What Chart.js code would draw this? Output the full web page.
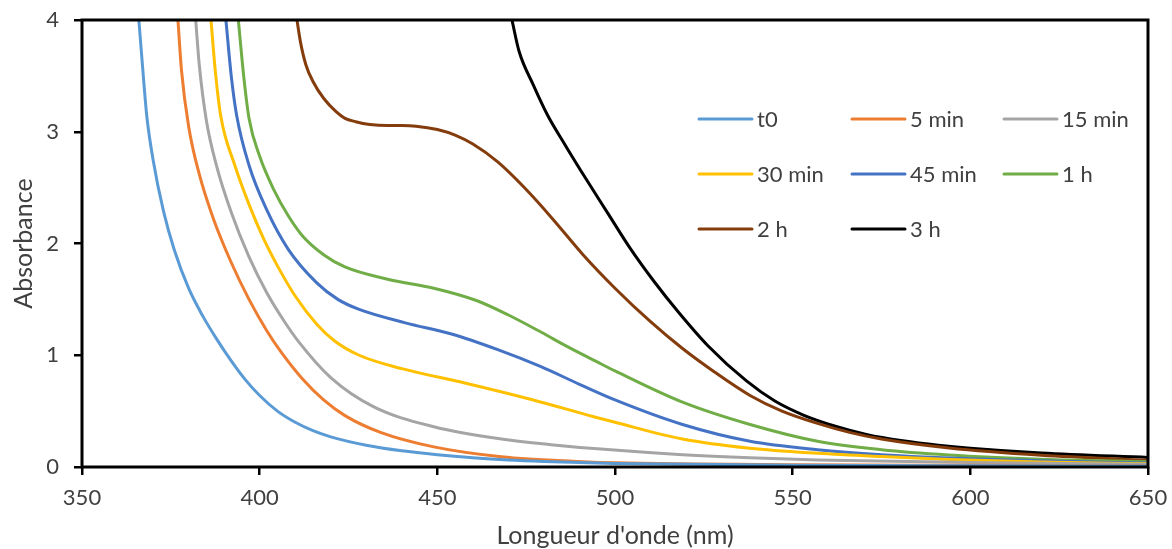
<!DOCTYPE html>
<html>
<head>
<meta charset="utf-8">
<script src="https://cdn.jsdelivr.net/npm/chart.js@4.4.0/dist/chart.umd.min.js"></script>
<style>
  html, body { margin: 0; padding: 0; background: #ffffff; }
  #wrap { width: 1172px; height: 549px; position: relative; }
</style>
</head>
<body>
<div id="wrap"><canvas id="c" width="1172" height="549"></canvas></div>
<script>
// ---- Data ----
const seriesLabels = ['t0', '5 min', '15 min', '30 min', '45 min', '1 h', '2 h', '3 h'];
const seriesColors = ['#5B9BD5', '#ED7D31', '#A5A5A5', '#FFC000', '#4472C4', '#70AD47', '#843C0C', '#000000'];

const xTicks = [350, 400, 450, 500, 550, 600, 650];
const yTicks = [0, 1, 2, 3, 4];

const wl_t0  = [366, 367, 368.2, 370, 373, 376, 380, 384, 388, 392, 396, 400, 405, 410, 415, 420, 430, 440, 450, 460, 470, 480, 500, 550, 600, 650];
const abs_t0 = [4.0, 3.6, 3.15, 2.75, 2.28, 1.94, 1.6, 1.35, 1.14, 0.95, 0.78, 0.64, 0.5, 0.4, 0.325, 0.27, 0.195, 0.145, 0.11, 0.083, 0.063, 0.05, 0.032, 0.016, 0.011, 0.01];

const wl_5min  = [377, 378, 380, 383, 387, 392, 397, 402, 406, 412, 418, 424, 434, 449, 468, 491, 500, 550, 600, 650];
const abs_5min = [4.0, 3.55, 3.05, 2.62, 2.22, 1.83, 1.5, 1.22, 1.03, 0.79, 0.6, 0.46, 0.31, 0.18, 0.092, 0.047, 0.037, 0.02, 0.015, 0.012];

const wl_15min  = [382, 383, 385, 388, 392, 397, 402, 407, 411, 420, 432, 449, 468, 482, 496, 519, 538, 557, 600, 650];
const abs_15min = [4.0, 3.6, 3.1, 2.68, 2.28, 1.88, 1.56, 1.3, 1.12, 0.8, 0.54, 0.36, 0.25, 0.2, 0.16, 0.11, 0.082, 0.063, 0.04, 0.025];

const wl_30min  = [386.3, 387.5, 389, 393, 397, 401, 405, 410, 416, 421, 428, 440, 458, 477, 494, 500, 519, 538, 557, 575, 594, 620, 650];
const abs_30min = [4.0, 3.55, 3.15, 2.7, 2.35, 2.05, 1.8, 1.53, 1.28, 1.13, 1.0, 0.88, 0.75, 0.6, 0.45, 0.4, 0.25, 0.167, 0.122, 0.093, 0.068, 0.045, 0.03];

const wl_45min  = [390.5, 392, 393.5, 397, 402, 408, 416, 422, 428, 441, 454, 467, 479, 490, 500, 519, 538, 557, 575, 594, 620, 650];
const abs_45min = [4.0, 3.5, 3.15, 2.7, 2.3, 1.95, 1.65, 1.5, 1.41, 1.29, 1.19, 1.05, 0.9, 0.74, 0.6, 0.38, 0.23, 0.155, 0.11, 0.08, 0.055, 0.035];

const wl_1h  = [394, 395.5, 397, 400, 404, 408, 412, 418, 424, 436, 449, 461, 470, 479, 487, 495, 500, 519, 538, 557, 575, 594, 620, 650];
const abs_1h = [4.0, 3.5, 3.12, 2.78, 2.48, 2.25, 2.07, 1.9, 1.79, 1.68, 1.6, 1.49, 1.36, 1.21, 1.07, 0.94, 0.86, 0.58, 0.38, 0.23, 0.155, 0.108, 0.07, 0.047];

const wl_2h  = [410.5, 411.5, 413, 415, 418, 421.5, 424, 427, 431, 436, 440, 444, 450, 455, 460, 467, 476, 483, 491, 500, 510, 519, 528, 538, 547, 557, 566, 575, 594, 620, 650];
const abs_2h = [4.0, 3.8, 3.6, 3.45, 3.3, 3.18, 3.12, 3.09, 3.065, 3.055, 3.055, 3.05, 3.02, 2.97, 2.89, 2.73, 2.45, 2.2, 1.9, 1.6, 1.3, 1.06, 0.85, 0.64, 0.5, 0.39, 0.31, 0.25, 0.17, 0.105, 0.06];

const wl_3h  = [471, 473, 477, 481, 486, 492, 498, 504, 511, 518, 526, 537, 545, 553, 562, 571, 581, 591, 600, 620, 650];
const abs_3h = [4.0, 3.72, 3.42, 3.15, 2.88, 2.57, 2.27, 1.97, 1.66, 1.38, 1.09, 0.77, 0.59, 0.465, 0.365, 0.29, 0.235, 0.195, 0.168, 0.125, 0.085];

const wavelengths = [wl_t0, wl_5min, wl_15min, wl_30min, wl_45min, wl_1h, wl_2h, wl_3h];
const absorbances = [abs_t0, abs_5min, abs_15min, abs_30min, abs_45min, abs_1h, abs_2h, abs_3h];

// ---- Build datasets ----
const datasets = seriesLabels.map((label, i) => ({
  label: label,
  data: wavelengths[i].map((w, k) => ({ x: w, y: absorbances[i][k] })),
  borderColor: seriesColors[i],
  backgroundColor: seriesColors[i],
  borderWidth: 3,
  pointRadius: 0,
  pointHoverRadius: 0,
  fill: false,
  cubicInterpolationMode: 'monotone'
}));

const FONT = 'Lato, "Open Sans", "DejaVu Sans", sans-serif';

// Frame around the plot area
const framePlugin = {
  id: 'frame',
  afterDatasetsDraw(chart) {
    const { ctx, chartArea: a } = chart;
    ctx.save();
    ctx.strokeStyle = '#000000';
    ctx.lineWidth = 3;
    ctx.strokeRect(a.left, a.top, a.right - a.left, a.bottom - a.top);
    ctx.restore();
  }
};

// Three-column legend inside the plot area
const legendPlugin = {
  id: 'gridLegend',
  afterDraw(chart) {
    const { ctx } = chart;
    const colX = [699, 852, 1004];
    const rowY = [119, 174, 229];
    const lineLen = 53;
    ctx.save();
    ctx.font = '22px ' + FONT;
    ctx.textBaseline = 'middle';
    ctx.textAlign = 'left';
    chart.data.datasets.forEach((ds, i) => {
      const c = i % 3, r = Math.floor(i / 3);
      const x = colX[c], y = rowY[r];
      ctx.strokeStyle = ds.borderColor;
      ctx.lineWidth = 3;
      ctx.lineCap = 'round';
      ctx.beginPath();
      ctx.moveTo(x, y);
      ctx.lineTo(x + lineLen, y);
      ctx.stroke();
      ctx.fillStyle = '#404040';
      ctx.fillText(ds.label, x + lineLen + 5, y + 1);
    });
    ctx.restore();
  }
};

new Chart(document.getElementById('c'), {
  type: 'line',
  data: { datasets },
  plugins: [framePlugin, legendPlugin],
  options: {
    responsive: false,
    animation: false,
    events: [],
    layout: { padding: { top: 20, right: 24, left: 0, bottom: 0 } },
    plugins: {
      legend: { display: false },
      tooltip: { enabled: false }
    },
    scales: {
      x: {
        type: 'linear',
        min: 350,
        max: 650,
        afterBuildTicks: (s) => { s.ticks = xTicks.map(v => ({ value: v })); },
        afterFit: (s) => { s.height = 82; s.paddingLeft = 0; s.paddingRight = 0; },
        border: { display: false },
        grid: { drawOnChartArea: false, drawTicks: true, tickLength: 8, color: '#000000', lineWidth: 2.5 },
        ticks: { color: '#404040', font: { family: FONT, size: 22 }, padding: 10, maxRotation: 0 },
        title: {
          display: true,
          text: "Longueur d'onde (nm)",
          color: '#404040',
          font: { family: FONT, size: 25, lineHeight: 1 },
          padding: { top: 0, bottom: 1 }
        }
      },
      y: {
        type: 'linear',
        min: 0,
        max: 4,
        afterBuildTicks: (s) => { s.ticks = yTicks.map(v => ({ value: v })); },
        afterFit: (s) => { s.width = 82; s.paddingTop = 0; s.paddingBottom = 0; },
        border: { display: false },
        grid: { drawOnChartArea: false, drawTicks: true, tickLength: 8, color: '#000000', lineWidth: 2.5 },
        ticks: { color: '#404040', font: { family: FONT, size: 22 }, padding: 15 },
        title: {
          display: true,
          text: 'Absorbance',
          color: '#404040',
          font: { family: FONT, size: 25, lineHeight: 1 },
          padding: { top: 11, bottom: 0 }
        }
      }
    }
  }
});
</script>
</body>
</html>
